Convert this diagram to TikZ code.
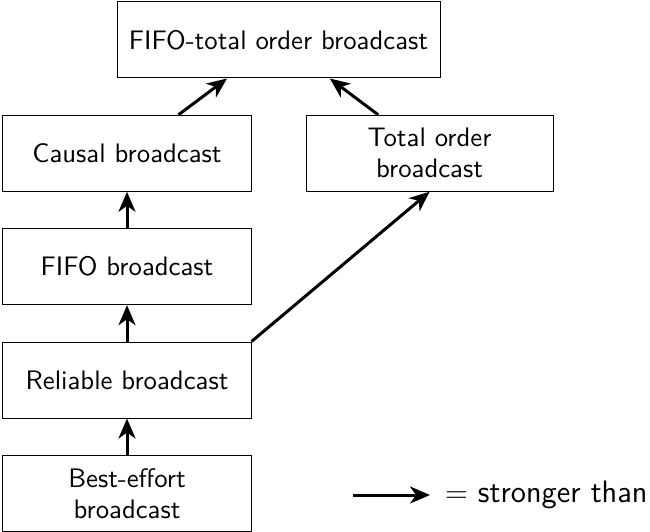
\documentclass[tikz,border=0pt]{standalone}
\usetikzlibrary{arrows.meta}
\begin{document}
\begin{tikzpicture}[x=0.4pt,y=-0.4pt,
  font=\sffamily\fontsize{10.7}{12.4}\selectfont,
  box/.style={draw, line width=0.4pt, minimum width=99.2pt, minimum height=30.4pt, align=center, inner sep=2pt},
  arr/.style={line width=1.2pt, -{Stealth[length=8pt,width=6.8pt,inset=2.4pt]}}]
\useasboundingbox (0,0) rectangle (650,531);
\node[box, minimum width=129.2pt] (fifototal) at (278.5,40) {FIFO-total order broadcast};
\node[box] (causal) at (127,153.3) {Causal broadcast};
\node[box, minimum width=98.8pt] (total) at (429.5,153.3) {Total order\\broadcast};
\node[box] (fifo) at (127,266.7) {FIFO broadcast};
\node[box] (reliable) at (127,380) {Reliable broadcast};
\node[box] (best) at (127,493.5) {Best-effort\\broadcast};
\draw[arr] (causal) -- (fifototal);
\draw[arr] (total) -- (fifototal);
\draw[arr] (fifo) -- (causal);
\draw[arr] (reliable) -- (fifo);
\draw[arr] (best) -- (reliable);
\draw[arr] (reliable.north east) -- (total.south);
\coordinate (la) at (353,495);
\coordinate (lb) at (430,495);
\draw[arr] (la) -- (lb);
\node[anchor=west, font=\sffamily\fontsize{12.4}{14}\selectfont, inner sep=3pt] (legend) at (437,495) {$=$ stronger than};
\end{tikzpicture}
\end{document}
